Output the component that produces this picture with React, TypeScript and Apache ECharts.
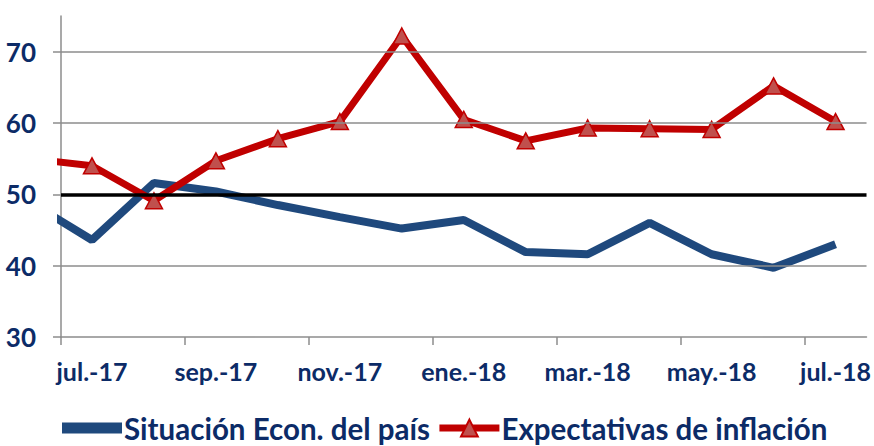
import React, { useEffect, useRef } from "react";
import * as echarts from "echarts";

// Months: index -1 = jun.-17 (outside the visible axis, clipped), 0 = jul.-17 ... 12 = jul.-18
const months = [
  "jun.-17", "jul.-17", "ago.-17", "sep.-17", "oct.-17", "nov.-17", "dic.-17",
  "ene.-18", "feb.-18", "mar.-18", "abr.-18", "may.-18", "jun.-18", "jul.-18",
];
const situacion = [48.9, 43.6, 51.6, 50.4, 48.5, 46.8, 45.2, 46.4, 41.9, 41.6, 46.0, 41.6, 39.7, 43.0];
const expectativas = [55.0, 54.0, 49.1, 54.7, 57.8, 60.2, 72.2, 60.5, 57.5, 59.3, 59.2, 59.1, 65.2, 60.2];
const yTicks = [30, 40, 50, 60, 70];
const xLabelIdx = [0, 2, 4, 6, 8, 10, 12];
const xTickIdx = [-0.5, 1.5, 3.5, 5.5, 7.5, 9.5, 11.5];
const gridValues = [40, 60, 70];
const neutral = 50;

const NAVY = "#0C2B67";
const GRAY = "#8C8C8C";
const BLUE = "#1F497D";
const RED = "#C00000";
const FONT = "Lato";

export default function App() {
  const ref = useRef<HTMLDivElement>(null);
  useEffect(() => {
    if (!ref.current) return;
    const chart = echarts.init(ref.current, undefined, { renderer: "svg" });
    const toPts = (arr: number[]) => arr.map((v, i) => [i - 1, v]);
    chart.setOption({
      animation: false,
      grid: { left: 61, right: 6, top: 16, bottom: 109 },
      legend: {
        bottom: 3,
        left: 62,
        itemWidth: 60,
        itemHeight: 21,
        itemGap: 6,
        padding: 0,
        textStyle: { color: NAVY, fontFamily: FONT, fontWeight: "bold", fontSize: 29.5, padding: [0, 0, 0, -3] },
        data: [
          {
            name: "Situación Econ. del país",
            icon: "path://M0,0 L0.01,0 L0,0.01 Z M0,21 L0.01,21 L0,20.99 Z M0,5 H60 V16 H0 Z",
            itemStyle: { color: BLUE },
          },
          {
            name: "Expectativas de inflación",
            lineStyle: { width: 7, color: RED },
          },
        ],
      },
      xAxis: {
        type: "value",
        min: -0.5,
        max: 12.5,
        splitLine: { show: false },
        axisLine: { onZero: false, lineStyle: { color: GRAY, width: 1.5 } },
        axisTick: { show: true, customValues: xTickIdx, length: 8, lineStyle: { color: GRAY, width: 1.5 } },
        axisLabel: {
          customValues: xLabelIdx,
          formatter: (v: number) => months[Math.round(v) + 1],
          color: NAVY,
          fontFamily: FONT,
          fontWeight: "bold",
          fontSize: 25,
          margin: 21,
        },
      },
      yAxis: {
        type: "value",
        min: 30,
        max: 75,
        splitLine: { show: false },
        axisLine: { show: true, onZero: false, lineStyle: { color: GRAY, width: 1.5 } },
        axisTick: { show: true, customValues: yTicks, length: 8, lineStyle: { color: GRAY, width: 1.5 } },
        axisLabel: {
          customValues: yTicks,
          color: NAVY,
          fontFamily: FONT,
          fontWeight: "bold",
          fontSize: 26,
          margin: 25,
        },
      },
      series: [
        {
          name: "grid",
          type: "line",
          data: [],
          z: 1,
          silent: true,
          markLine: {
            silent: true,
            symbol: "none",
            label: { show: false },
            lineStyle: { color: GRAY, width: 1.5, type: "solid" },
            data: gridValues.map((v) => ({ yAxis: v })),
          },
        },
        {
          name: "Situación Econ. del país",
          type: "line",
          data: toPts(situacion),
          z: 2,
          clip: true,
          symbol: "none",
          lineStyle: { color: BLUE, width: 8 },
          itemStyle: { color: BLUE },
        },
        {
          name: "neutral",
          type: "line",
          data: [],
          z: 3,
          silent: true,
          markLine: {
            silent: true,
            symbol: "none",
            label: { show: false },
            lineStyle: { color: "#000000", width: 3.5, type: "solid" },
            data: [{ yAxis: neutral }],
          },
        },
        {
          name: "Expectativas de inflación",
          type: "line",
          data: toPts(expectativas),
          z: 4,
          clip: true,
          symbol: "triangle",
          symbolSize: [17, 16],
          lineStyle: { color: RED, width: 7 },
          itemStyle: { color: "#C0504D", borderColor: RED, borderWidth: 1.5 },
        },
      ],
    });
    return () => chart.dispose();
  }, []);
  return <div ref={ref} style={{ position: "absolute", left: 0, top: 0, width: 874, height: 446 }} />;
}
